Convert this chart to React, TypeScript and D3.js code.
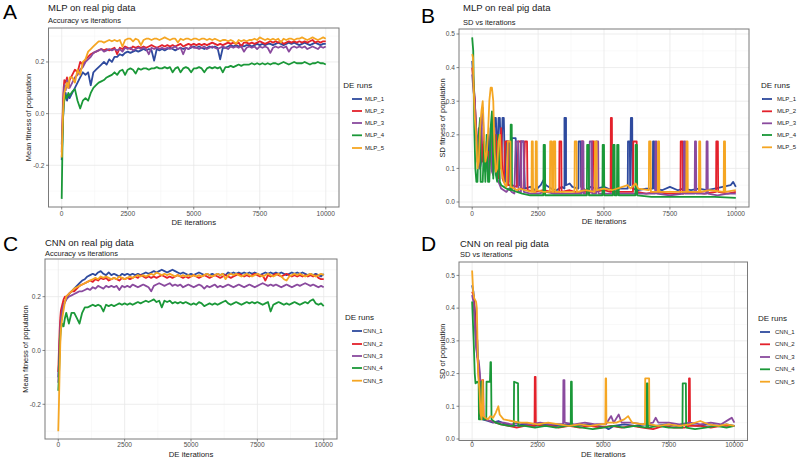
import React from "react";
import * as d3 from "d3";

const COLORS = ["#2E4A9E", "#E3212B", "#8A4A9E", "#1A9838", "#F5A623"];
const MLP_RUNS = ["MLP_1", "MLP_2", "MLP_3", "MLP_4", "MLP_5"];
const CNN_RUNS = ["CNN_1", "CNN_2", "CNN_3", "CNN_4", "CNN_5"];

const X_TICKS = [0, 2500, 5000, 7500, 10000];
const X_MINOR = [1250, 3750, 6250, 8750];
const ACC_Y_TICKS = [-0.2, 0.0, 0.2];
const ACC_Y_MINOR = [-0.3, -0.1, 0.1, 0.3];
const SD_Y_TICKS = [0, 0.1, 0.2, 0.3, 0.4, 0.5];
const SD_Y_MINOR = [0.05, 0.15, 0.25, 0.35, 0.45];

const ACC_ITER = [
  0, 25, 50, 75, 100, 150, 200, 250, 300,
  400, 500, 600, 700, 800, 900, 1000,
  1100, 1200, 1300, 1400, 1500, 1600, 1700, 1800, 1900, 2000,
  2100, 2200, 2300, 2400, 2500, 2600, 2700, 2800, 2900, 3000,
  3100, 3200, 3300, 3400, 3500, 3600, 3700, 3800, 3900, 4000,
  4100, 4200, 4300, 4400, 4500, 4600, 4700, 4800, 4900, 5000,
  5100, 5200, 5300, 5400, 5500, 5600, 5700, 5800, 5900, 6000,
  6100, 6200, 6300, 6400, 6500, 6600, 6700, 6800, 6900, 7000,
  7100, 7200, 7300, 7400, 7500, 7600, 7700, 7800, 7900, 8000,
  8100, 8200, 8300, 8400, 8500, 8600, 8700, 8800, 8900, 9000,
  9100, 9200, 9300, 9400, 9500, 9600, 9700, 9800, 9900, 10000,
];

// Panel A: MLP mean fitness
const MLP_ACC_1 = [
  -0.18, -0.1, -0.02, 0.03, 0.06, 0.08, 0.05, 0.07, 0.06,
  0.08, 0.1, 0.12, 0.14, 0.16, 0.15, 0.16,
  0.11, 0.16, 0.17, 0.18, 0.19, 0.2, 0.19, 0.21, 0.2, 0.22,
  0.22, 0.23, 0.225, 0.235, 0.24, 0.235, 0.24, 0.245, 0.24, 0.245,
  0.25, 0.245, 0.25, 0.245, 0.205, 0.25, 0.245, 0.25, 0.245, 0.25,
  0.255, 0.25, 0.245, 0.25, 0.255, 0.25, 0.255, 0.25, 0.255, 0.26,
  0.255, 0.26, 0.255, 0.25, 0.255, 0.26, 0.255, 0.26, 0.255, 0.21,
  0.255, 0.255, 0.26, 0.265, 0.26, 0.265, 0.26, 0.265, 0.26, 0.265,
  0.265, 0.26, 0.265, 0.27, 0.265, 0.27, 0.265, 0.27, 0.27, 0.265,
  0.27, 0.275, 0.27, 0.265, 0.27, 0.275, 0.27, 0.275, 0.27, 0.265,
  0.27, 0.275, 0.27, 0.265, 0.27, 0.275, 0.27, 0.265, 0.27, 0.27,
];
const MLP_ACC_2 = [
  -0.15, -0.05, 0.05, 0.1, 0.13, 0.12, 0.14, 0.1, 0.13,
  0.15, 0.17, 0.16, 0.2, 0.19, 0.21, 0.22,
  0.23, 0.235, 0.24, 0.245, 0.25, 0.245, 0.25, 0.245, 0.25, 0.255,
  0.23, 0.255, 0.25, 0.26, 0.255, 0.25, 0.26, 0.255, 0.26, 0.255,
  0.26, 0.255, 0.26, 0.265, 0.26, 0.255, 0.26, 0.265, 0.26, 0.265,
  0.26, 0.265, 0.26, 0.265, 0.27, 0.26, 0.265, 0.27, 0.265, 0.27,
  0.265, 0.27, 0.265, 0.27, 0.265, 0.27, 0.275, 0.27, 0.265, 0.27,
  0.265, 0.27, 0.275, 0.27, 0.275, 0.27, 0.275, 0.26, 0.275, 0.275,
  0.27, 0.275, 0.27, 0.275, 0.28, 0.275, 0.27, 0.275, 0.28, 0.275,
  0.28, 0.275, 0.28, 0.27, 0.275, 0.28, 0.275, 0.28, 0.275, 0.28,
  0.275, 0.28, 0.275, 0.28, 0.285, 0.275, 0.28, 0.275, 0.28, 0.28,
];
const MLP_ACC_3 = [
  -0.12, -0.05, 0.02, 0.08, 0.11, 0.09, 0.13, 0.12, 0.1,
  0.12, 0.14, 0.15, 0.17, 0.18, 0.2, 0.21,
  0.22, 0.235, 0.24, 0.245, 0.25, 0.24, 0.245, 0.25, 0.245, 0.25,
  0.245, 0.25, 0.24, 0.255, 0.25, 0.255, 0.245, 0.25, 0.255, 0.25,
  0.255, 0.25, 0.23, 0.255, 0.25, 0.255, 0.25, 0.255, 0.25, 0.255,
  0.25, 0.255, 0.26, 0.25, 0.255, 0.23, 0.255, 0.25, 0.26, 0.255,
  0.255, 0.25, 0.255, 0.26, 0.25, 0.255, 0.26, 0.255, 0.25, 0.255,
  0.26, 0.255, 0.25, 0.26, 0.255, 0.26, 0.255, 0.26, 0.24, 0.255,
  0.26, 0.255, 0.26, 0.25, 0.26, 0.255, 0.26, 0.255, 0.235, 0.255,
  0.26, 0.255, 0.26, 0.255, 0.26, 0.24, 0.255, 0.26, 0.255, 0.26,
  0.255, 0.26, 0.25, 0.255, 0.26, 0.255, 0.25, 0.26, 0.255, 0.26,
];
const MLP_ACC_4 = [
  -0.33, -0.15, -0.02, 0.03, 0.05, 0.07, 0.06, 0.08, 0.07,
  0.085, 0.095, 0.05, 0.02, 0.05, 0.06, 0.05,
  0.08, 0.1, 0.11, 0.12, 0.125, 0.13, 0.14, 0.145, 0.15, 0.16,
  0.15, 0.165, 0.17, 0.15, 0.17, 0.175, 0.17, 0.155, 0.175, 0.17,
  0.175, 0.175, 0.17, 0.175, 0.175, 0.18, 0.175, 0.175, 0.18, 0.175,
  0.18, 0.16, 0.175, 0.18, 0.16, 0.175, 0.18, 0.175, 0.16, 0.175,
  0.175, 0.18, 0.175, 0.16, 0.175, 0.18, 0.175, 0.18, 0.175, 0.18,
  0.16, 0.18, 0.18, 0.185, 0.18, 0.185, 0.19, 0.185, 0.19, 0.19,
  0.19, 0.195, 0.19, 0.195, 0.19, 0.195, 0.19, 0.195, 0.19, 0.195,
  0.195, 0.19, 0.195, 0.2, 0.195, 0.19, 0.195, 0.2, 0.195, 0.195,
  0.195, 0.2, 0.195, 0.19, 0.195, 0.195, 0.2, 0.195, 0.195, 0.19,
];
const MLP_ACC_5 = [
  -0.17, -0.08, 0.0, 0.05, 0.08, 0.1, 0.12, 0.1, 0.14,
  0.14, 0.12, 0.17, 0.15, 0.2, 0.21, 0.24,
  0.25, 0.26, 0.27, 0.28, 0.28, 0.275, 0.28, 0.285, 0.28, 0.285,
  0.28, 0.285, 0.26, 0.285, 0.29, 0.29, 0.28, 0.29, 0.285, 0.265,
  0.285, 0.29, 0.29, 0.285, 0.29, 0.29, 0.285, 0.29, 0.295, 0.29,
  0.285, 0.29, 0.29, 0.275, 0.29, 0.285, 0.29, 0.29, 0.285, 0.29,
  0.29, 0.285, 0.29, 0.29, 0.285, 0.29, 0.285, 0.29, 0.285, 0.28,
  0.285, 0.285, 0.28, 0.285, 0.28, 0.27, 0.285, 0.28, 0.285, 0.28,
  0.285, 0.285, 0.29, 0.285, 0.295, 0.29, 0.285, 0.29, 0.285, 0.29,
  0.285, 0.29, 0.275, 0.29, 0.285, 0.29, 0.29, 0.285, 0.29, 0.29,
  0.295, 0.29, 0.285, 0.29, 0.295, 0.29, 0.285, 0.29, 0.295, 0.29,
];

// Panel C: CNN mean fitness
const CNN_ACC_1 = [
  -0.1, -0.05, 0.02, 0.08, 0.12, 0.15, 0.17, 0.18, 0.19,
  0.21, 0.22, 0.23, 0.24, 0.25, 0.26, 0.265,
  0.275, 0.28, 0.285, 0.28, 0.29, 0.295, 0.285, 0.28, 0.29, 0.28,
  0.285, 0.28, 0.275, 0.285, 0.28, 0.285, 0.28, 0.285, 0.28, 0.285,
  0.28, 0.285, 0.29, 0.285, 0.29, 0.295, 0.29, 0.295, 0.3, 0.295,
  0.29, 0.295, 0.3, 0.295, 0.29, 0.285, 0.29, 0.285, 0.28, 0.285,
  0.28, 0.285, 0.29, 0.285, 0.28, 0.285, 0.28, 0.285, 0.28, 0.285,
  0.28, 0.285, 0.28, 0.29, 0.285, 0.29, 0.285, 0.29, 0.285, 0.29,
  0.285, 0.29, 0.285, 0.29, 0.285, 0.28, 0.285, 0.29, 0.285, 0.29,
  0.285, 0.29, 0.285, 0.29, 0.285, 0.28, 0.285, 0.29, 0.285, 0.29,
  0.285, 0.29, 0.285, 0.28, 0.285, 0.28, 0.285, 0.28, 0.275, 0.285,
];
const CNN_ACC_2 = [
  -0.08, 0.0, 0.07, 0.12, 0.15, 0.17, 0.19, 0.2, 0.2,
  0.21, 0.22, 0.22, 0.23, 0.24, 0.245, 0.25,
  0.255, 0.26, 0.255, 0.265, 0.26, 0.27, 0.265, 0.27, 0.26, 0.265,
  0.27, 0.265, 0.26, 0.27, 0.265, 0.27, 0.265, 0.27, 0.275, 0.27,
  0.28, 0.275, 0.27, 0.275, 0.27, 0.275, 0.27, 0.275, 0.28, 0.275,
  0.27, 0.275, 0.27, 0.275, 0.28, 0.275, 0.27, 0.275, 0.27, 0.275,
  0.28, 0.275, 0.27, 0.275, 0.28, 0.275, 0.27, 0.275, 0.28, 0.275,
  0.27, 0.275, 0.28, 0.275, 0.27, 0.275, 0.28, 0.285, 0.28, 0.275,
  0.28, 0.275, 0.28, 0.285, 0.28, 0.275, 0.28, 0.26, 0.28, 0.275,
  0.28, 0.285, 0.28, 0.275, 0.28, 0.285, 0.28, 0.275, 0.28, 0.275,
  0.28, 0.275, 0.28, 0.275, 0.28, 0.275, 0.28, 0.27, 0.265, 0.265,
];
const CNN_ACC_3 = [
  -0.12, -0.05, 0.03, 0.08, 0.12, 0.15, 0.17, 0.18, 0.19,
  0.2, 0.205, 0.21, 0.215, 0.22, 0.22, 0.225,
  0.23, 0.225, 0.235, 0.23, 0.24, 0.235, 0.23, 0.24, 0.235, 0.24,
  0.235, 0.24, 0.225, 0.24, 0.235, 0.24, 0.235, 0.245, 0.24, 0.235,
  0.24, 0.245, 0.24, 0.235, 0.22, 0.24, 0.245, 0.25, 0.245, 0.24,
  0.245, 0.25, 0.24, 0.245, 0.24, 0.245, 0.235, 0.24, 0.245, 0.24,
  0.235, 0.24, 0.245, 0.24, 0.23, 0.24, 0.235, 0.24, 0.245, 0.235,
  0.24, 0.235, 0.24, 0.245, 0.24, 0.235, 0.24, 0.245, 0.24, 0.235,
  0.24, 0.245, 0.24, 0.235, 0.24, 0.245, 0.25, 0.245, 0.24, 0.245,
  0.24, 0.245, 0.24, 0.235, 0.24, 0.245, 0.24, 0.235, 0.24, 0.245,
  0.24, 0.245, 0.25, 0.245, 0.24, 0.245, 0.24, 0.235, 0.24, 0.235,
];
const CNN_ACC_4 = [
  -0.15, -0.1, -0.02, 0.05, 0.08, 0.1, 0.09, 0.12, 0.14,
  0.1, 0.14, 0.14, 0.12, 0.1, 0.14, 0.16,
  0.16, 0.165, 0.17, 0.165, 0.17, 0.165, 0.145, 0.17, 0.165, 0.17,
  0.165, 0.17, 0.175, 0.17, 0.175, 0.17, 0.175, 0.17, 0.175, 0.18,
  0.175, 0.18, 0.185, 0.18, 0.185, 0.19, 0.18, 0.185, 0.16, 0.185,
  0.18, 0.185, 0.175, 0.18, 0.175, 0.18, 0.175, 0.18, 0.175, 0.17,
  0.175, 0.17, 0.18, 0.175, 0.165, 0.17, 0.175, 0.17, 0.175, 0.17,
  0.175, 0.18, 0.185, 0.175, 0.17, 0.175, 0.18, 0.175, 0.17, 0.175,
  0.18, 0.175, 0.18, 0.175, 0.18, 0.175, 0.17, 0.175, 0.18, 0.145,
  0.17, 0.175, 0.18, 0.175, 0.17, 0.175, 0.17, 0.175, 0.18, 0.175,
  0.17, 0.175, 0.18, 0.175, 0.185, 0.19, 0.175, 0.17, 0.175, 0.165,
];
const CNN_ACC_5 = [
  -0.3, -0.2, -0.08, 0.02, 0.08, 0.12, 0.15, 0.18, 0.2,
  0.21, 0.22, 0.23, 0.235, 0.24, 0.245, 0.25,
  0.255, 0.26, 0.265, 0.27, 0.265, 0.275, 0.27, 0.275, 0.27, 0.265,
  0.27, 0.265, 0.275, 0.27, 0.265, 0.27, 0.275, 0.27, 0.275, 0.28,
  0.275, 0.28, 0.275, 0.28, 0.285, 0.28, 0.29, 0.285, 0.28, 0.285,
  0.28, 0.285, 0.28, 0.275, 0.28, 0.275, 0.28, 0.275, 0.28, 0.275,
  0.28, 0.275, 0.28, 0.275, 0.28, 0.285, 0.28, 0.275, 0.28, 0.285,
  0.28, 0.285, 0.265, 0.28, 0.285, 0.28, 0.285, 0.28, 0.275, 0.28,
  0.285, 0.28, 0.275, 0.28, 0.285, 0.28, 0.275, 0.28, 0.285, 0.28,
  0.275, 0.28, 0.285, 0.275, 0.265, 0.26, 0.275, 0.28, 0.285, 0.28,
  0.285, 0.28, 0.275, 0.28, 0.285, 0.28, 0.275, 0.28, 0.285, 0.28,
];

// Panel B: MLP SD (iteration, value)
const MLP_SD_1: [number, number][] = [
  [0, 0.42], [50, 0.36], [100, 0.3], [150, 0.2], [200, 0.12], [300, 0.1], [400, 0.15], [500, 0.09],
  [600, 0.2], [650, 0.12], [700, 0.18], [800, 0.1], [850, 0.25], [900, 0.25], [950, 0.12], [1000, 0.25],
  [1050, 0.25], [1100, 0.1], [1150, 0.25], [1200, 0.25], [1250, 0.06], [1300, 0.18], [1400, 0.18],
  [1450, 0.06], [1500, 0.19], [1650, 0.19], [1700, 0.05], [1800, 0.05], [1850, 0.18], [1950, 0.18],
  [2000, 0.04], [2200, 0.045], [2400, 0.035], [2600, 0.05], [2700, 0.065], [2800, 0.05], [3000, 0.04],
  [3200, 0.035], [3400, 0.045], [3500, 0.04], [3500, 0.25], [3560, 0.25], [3560, 0.05], [3700, 0.055],
  [3800, 0.045], [4030, 0.04], [4040, 0.18], [4120, 0.18], [4130, 0.045], [4300, 0.035], [4500, 0.045],
  [4700, 0.04], [5000, 0.045], [5300, 0.035], [5600, 0.04], [5900, 0.04], [5910, 0.18], [5980, 0.18],
  [5990, 0.05], [6020, 0.25], [6070, 0.25], [6080, 0.04], [6300, 0.035], [6600, 0.04], [6850, 0.04],
  [6860, 0.18], [6900, 0.18], [6910, 0.04], [7200, 0.035], [7500, 0.045], [7800, 0.035], [8000, 0.04],
  [8300, 0.035], [8600, 0.04], [8900, 0.035], [9200, 0.04], [9500, 0.045], [9800, 0.05], [9900, 0.06],
  [10000, 0.045],
];
const MLP_SD_2: [number, number][] = [
  [0, 0.4], [50, 0.35], [100, 0.3], [150, 0.22], [200, 0.15], [250, 0.2], [300, 0.1], [350, 0.22],
  [400, 0.12], [450, 0.18], [500, 0.1], [600, 0.15], [650, 0.08], [700, 0.22], [750, 0.1], [800, 0.09],
  [900, 0.2], [950, 0.08], [1000, 0.07], [1100, 0.22], [1150, 0.07], [1200, 0.06], [1250, 0.18],
  [1350, 0.18], [1360, 0.05], [1500, 0.05], [1700, 0.045], [1750, 0.18], [1850, 0.18], [1860, 0.04],
  [1950, 0.04], [2000, 0.18], [2080, 0.18], [2100, 0.035], [2400, 0.03], [2700, 0.035], [3000, 0.03],
  [3300, 0.03], [3310, 0.18], [3380, 0.18], [3390, 0.03], [3700, 0.035], [3900, 0.03], [4000, 0.03],
  [4150, 0.03], [4160, 0.18], [4200, 0.18], [4210, 0.03], [4550, 0.03], [4560, 0.18], [4620, 0.18],
  [4630, 0.03], [5000, 0.035], [5250, 0.03], [5260, 0.25], [5300, 0.25], [5310, 0.03], [5600, 0.03],
  [6100, 0.03], [6110, 0.18], [6240, 0.18], [6250, 0.03], [6600, 0.025], [7000, 0.03], [7400, 0.025],
  [7900, 0.025], [7910, 0.18], [7980, 0.18], [7990, 0.025], [8400, 0.03], [8800, 0.025], [9250, 0.03],
  [9260, 0.18], [9320, 0.18], [9330, 0.03], [9700, 0.025], [10000, 0.03],
];
const MLP_SD_3: [number, number][] = [
  [0, 0.38], [50, 0.33], [100, 0.3], [150, 0.2], [200, 0.17], [250, 0.22], [300, 0.1], [350, 0.24],
  [400, 0.28], [450, 0.15], [500, 0.1], [550, 0.18], [600, 0.08], [650, 0.12], [700, 0.2], [750, 0.09],
  [800, 0.08], [850, 0.22], [900, 0.1], [950, 0.07], [1000, 0.06], [1100, 0.04], [1200, 0.035],
  [1300, 0.03], [1400, 0.04], [1500, 0.03], [1600, 0.025], [1650, 0.18], [1750, 0.18], [1760, 0.03],
  [1850, 0.03], [1860, 0.18], [1950, 0.18], [1960, 0.03], [2200, 0.025], [2500, 0.025], [2800, 0.03],
  [3100, 0.025], [3500, 0.025], [3800, 0.025], [4150, 0.025], [4160, 0.18], [4220, 0.18], [4230, 0.025],
  [4450, 0.025], [4460, 0.18], [4540, 0.18], [4550, 0.025], [4700, 0.025], [4710, 0.18], [4780, 0.18],
  [4790, 0.025], [5200, 0.025], [5700, 0.025], [6200, 0.025], [6700, 0.025], [6940, 0.025], [6950, 0.18],
  [6990, 0.18], [7000, 0.025], [7500, 0.02], [8020, 0.025], [8030, 0.18], [8080, 0.18], [8090, 0.025],
  [8440, 0.025], [8450, 0.18], [8490, 0.18], [8500, 0.025], [8880, 0.025], [8890, 0.18], [8930, 0.18],
  [8940, 0.025], [9300, 0.02], [9700, 0.025], [10000, 0.025],
];
const MLP_SD_4: [number, number][] = [
  [0, 0.49], [40, 0.45], [80, 0.22], [120, 0.1], [160, 0.06], [200, 0.06], [250, 0.2], [300, 0.25],
  [320, 0.06], [400, 0.06], [450, 0.18], [500, 0.06], [550, 0.2], [600, 0.06], [650, 0.06], [700, 0.22],
  [750, 0.27], [800, 0.07], [850, 0.2], [900, 0.08], [950, 0.06], [1000, 0.2], [1050, 0.06], [1100, 0.05],
  [1200, 0.045], [1300, 0.04], [1450, 0.035], [1460, 0.23], [1500, 0.23], [1510, 0.035], [1700, 0.03],
  [1900, 0.025], [2200, 0.02], [2500, 0.02], [2700, 0.02], [2710, 0.17], [2760, 0.17], [2770, 0.02],
  [3200, 0.02], [3700, 0.02], [4350, 0.02], [4360, 0.17], [4420, 0.17], [4430, 0.02], [4940, 0.02],
  [4950, 0.17], [5000, 0.17], [5010, 0.02], [5340, 0.02], [5350, 0.17], [5400, 0.17], [5410, 0.02],
  [5490, 0.02], [5500, 0.17], [5550, 0.17], [5560, 0.02], [6190, 0.02], [6200, 0.17], [6250, 0.17],
  [6260, 0.02], [6800, 0.015], [7400, 0.015], [8000, 0.015], [8600, 0.015], [9200, 0.015], [10000, 0.012],
];
const MLP_SD_5: [number, number][] = [
  [0, 0.44], [30, 0.43], [60, 0.33], [100, 0.25], [150, 0.2], [200, 0.1], [250, 0.12], [300, 0.22],
  [350, 0.27], [400, 0.3], [450, 0.2], [500, 0.12], [550, 0.14], [600, 0.2], [650, 0.3], [700, 0.34],
  [750, 0.34], [800, 0.3], [850, 0.15], [900, 0.09], [950, 0.1], [1000, 0.18], [1050, 0.2], [1100, 0.1],
  [1150, 0.08], [1200, 0.06], [1250, 0.05], [1300, 0.045], [1350, 0.18], [1450, 0.18], [1460, 0.045],
  [1600, 0.04], [1700, 0.035], [1800, 0.04], [2000, 0.035], [2250, 0.03], [2260, 0.18], [2300, 0.18],
  [2310, 0.03], [2400, 0.03], [2410, 0.18], [2450, 0.18], [2460, 0.035], [2700, 0.03], [2950, 0.03],
  [2960, 0.18], [3020, 0.18], [3030, 0.03], [3080, 0.03], [3090, 0.18], [3150, 0.18], [3160, 0.03],
  [3600, 0.03], [3880, 0.03], [3890, 0.18], [3960, 0.18], [3970, 0.03], [4300, 0.035], [4650, 0.03],
  [4660, 0.18], [4720, 0.18], [4730, 0.035], [5000, 0.04], [5300, 0.035], [5700, 0.045], [5900, 0.05],
  [6000, 0.04], [6200, 0.055], [6300, 0.04], [6700, 0.035], [6710, 0.18], [6770, 0.18], [6780, 0.03],
  [7040, 0.03], [7050, 0.18], [7090, 0.18], [7100, 0.03], [7600, 0.03], [8120, 0.03], [8130, 0.18],
  [8170, 0.18], [8180, 0.03], [8600, 0.03], [8610, 0.18], [8650, 0.18], [8660, 0.03], [9000, 0.035],
  [9540, 0.03], [9550, 0.18], [9590, 0.18], [9600, 0.03], [10000, 0.035],
];

// Panel D: CNN SD (iteration, value)
const CNN_SD_1: [number, number][] = [
  [0, 0.47], [50, 0.45], [100, 0.4], [150, 0.33], [200, 0.3], [250, 0.2], [300, 0.1], [350, 0.07],
  [400, 0.06], [600, 0.055], [800, 0.05], [1000, 0.055], [1300, 0.045], [1600, 0.04], [2000, 0.045],
  [2400, 0.04], [2800, 0.045], [3200, 0.04], [3600, 0.045], [4000, 0.04], [4400, 0.045], [4800, 0.04],
  [5100, 0.035], [5200, 0.03], [5400, 0.04], [5800, 0.045], [6200, 0.04], [6600, 0.045], [7000, 0.04],
  [7400, 0.045], [7800, 0.04], [8200, 0.045], [8600, 0.04], [9000, 0.045], [9400, 0.04], [9700, 0.045],
  [10000, 0.04],
];
const CNN_SD_2: [number, number][] = [
  [0, 0.45], [50, 0.44], [100, 0.38], [150, 0.3], [200, 0.25], [250, 0.2], [280, 0.12], [300, 0.07],
  [350, 0.065], [380, 0.18], [420, 0.18], [440, 0.07], [500, 0.06], [700, 0.055], [900, 0.05],
  [1100, 0.045], [1400, 0.04], [1700, 0.035], [2000, 0.04], [2380, 0.04], [2390, 0.19], [2420, 0.19],
  [2430, 0.045], [2700, 0.04], [3000, 0.04], [3300, 0.035], [3700, 0.04], [4100, 0.035], [4500, 0.04],
  [4900, 0.035], [5300, 0.04], [5700, 0.035], [6100, 0.04], [6500, 0.035], [6900, 0.03], [7300, 0.04],
  [7700, 0.035], [8100, 0.035], [8260, 0.04], [8270, 0.185], [8300, 0.185], [8310, 0.04], [8700, 0.04],
  [9100, 0.035], [9500, 0.04], [10000, 0.04],
];
const CNN_SD_3: [number, number][] = [
  [0, 0.44], [50, 0.42], [100, 0.35], [150, 0.28], [200, 0.25], [250, 0.24], [300, 0.2], [350, 0.1],
  [400, 0.07], [500, 0.06], [700, 0.055], [900, 0.05], [1200, 0.05], [1500, 0.045], [1800, 0.05],
  [2200, 0.045], [2600, 0.05], [3000, 0.045], [3470, 0.045], [3480, 0.18], [3520, 0.18], [3530, 0.05],
  [3900, 0.045], [4300, 0.05], [4700, 0.045], [5100, 0.045], [5300, 0.07], [5400, 0.05], [5590, 0.075],
  [5700, 0.05], [6100, 0.05], [6500, 0.045], [6900, 0.05], [7000, 0.065], [7100, 0.05], [7500, 0.05],
  [7900, 0.045], [8300, 0.05], [8700, 0.045], [9100, 0.05], [9500, 0.045], [9800, 0.06], [9900, 0.065],
  [10000, 0.05],
];
const CNN_SD_4: [number, number][] = [
  [0, 0.42], [60, 0.3], [100, 0.2], [130, 0.17], [200, 0.175], [250, 0.17], [260, 0.06], [330, 0.06],
  [350, 0.175], [400, 0.175], [420, 0.06], [540, 0.06], [550, 0.175], [680, 0.175], [700, 0.235],
  [720, 0.235], [740, 0.06], [900, 0.05], [1100, 0.045], [1400, 0.04], [1590, 0.04], [1600, 0.175],
  [1750, 0.17], [1760, 0.04], [2000, 0.04], [2400, 0.035], [2800, 0.04], [3200, 0.035], [3600, 0.04],
  [3760, 0.04], [3770, 0.175], [3800, 0.175], [3810, 0.04], [4200, 0.035], [4600, 0.03], [5000, 0.035],
  [5400, 0.04], [5800, 0.035], [6200, 0.04], [6650, 0.035], [6660, 0.17], [6700, 0.17], [6710, 0.035],
  [7100, 0.04], [7500, 0.035], [8020, 0.035], [8030, 0.17], [8150, 0.17], [8160, 0.035], [8500, 0.03],
  [8900, 0.035], [9300, 0.04], [9700, 0.035], [10000, 0.04],
];
const CNN_SD_5: [number, number][] = [
  [0, 0.515], [40, 0.45], [80, 0.43], [150, 0.42], [180, 0.4], [230, 0.2], [280, 0.15], [320, 0.08],
  [360, 0.06], [400, 0.18], [430, 0.07], [500, 0.065], [600, 0.06], [700, 0.07], [800, 0.065],
  [900, 0.08], [1000, 0.1], [1050, 0.075], [1200, 0.06], [1500, 0.055], [1800, 0.05], [2100, 0.05],
  [2500, 0.045], [2900, 0.05], [3300, 0.045], [3700, 0.04], [4100, 0.045], [4500, 0.04], [4900, 0.045],
  [5080, 0.045], [5090, 0.185], [5110, 0.185], [5120, 0.05], [5500, 0.05], [5800, 0.06], [5950, 0.07],
  [6100, 0.05], [6500, 0.045], [6590, 0.045], [6600, 0.185], [6750, 0.185], [6760, 0.045], [7100, 0.04],
  [7500, 0.045], [7900, 0.04], [8300, 0.045], [8700, 0.055], [9000, 0.045], [9400, 0.04], [9700, 0.045],
  [10000, 0.04],
];

const zipAcc = (vals: number[]): [number, number][] => vals.map((v, i) => [ACC_ITER[i], v]);

const FONT = "Liberation Sans, Arial, Helvetica, sans-serif";

type PanelCfg = {
  letter: string; lx: number; ly: number;
  title: string; subtitle: string; tx: number; tBase: number; sBase: number;
  left: number; right: number; top: number; bottom: number;
  yDomain: [number, number]; yTicks: number[]; yMinor: number[]; yFmt: (v: number) => string;
  yTitle: string; yTitleX: number;
  xLabelBase: number; xTitleBase: number;
  runs: string[]; series: [number, number][][];
  legX: number; legTitleBase: number; legY: number[]; legLineX: number; legLabelX: number;
};

function Panel({ c }: { c: PanelCfg }) {
  const x = d3.scaleLinear().domain([-500, 10500]).range([c.left, c.right]);
  const y = d3.scaleLinear().domain(c.yDomain).range([c.bottom, c.top]);
  const line = d3.line<[number, number]>().x((d) => x(d[0])).y((d) => y(d[1]));
  const cx = (c.left + c.right) / 2;
  const cy = (c.top + c.bottom) / 2;
  return (
    <g>
      <text x={c.lx} y={c.ly} fontSize={21} fontFamily={FONT} fill="#000">{c.letter}</text>
      <text x={c.tx} y={c.tBase} fontSize={9.5} fontFamily={FONT} fill="#1a1a1a">{c.title}</text>
      <text x={c.tx} y={c.sBase} fontSize={7.5} fontFamily={FONT} fill="#1a1a1a">{c.subtitle}</text>
      {c.yMinor.map((v) => (
        <line key={"ym" + v} x1={c.left} x2={c.right} y1={y(v)} y2={y(v)} stroke="#F2F2F2" strokeWidth={0.5} />
      ))}
      {X_MINOR.map((v) => (
        <line key={"xm" + v} x1={x(v)} x2={x(v)} y1={c.top} y2={c.bottom} stroke="#F2F2F2" strokeWidth={0.5} />
      ))}
      {c.yTicks.map((v) => (
        <line key={"yg" + v} x1={c.left} x2={c.right} y1={y(v)} y2={y(v)} stroke="#E8E8E8" strokeWidth={0.8} />
      ))}
      {X_TICKS.map((v) => (
        <line key={"xg" + v} x1={x(v)} x2={x(v)} y1={c.top} y2={c.bottom} stroke="#E8E8E8" strokeWidth={0.8} />
      ))}
      {c.series.map((s, i) => (
        <path key={"s" + i} d={line(s) || ""} fill="none" stroke={COLORS[i]} strokeWidth={1.8} strokeLinejoin="round" />
      ))}
      <rect x={c.left} y={c.top} width={c.right - c.left} height={c.bottom - c.top} fill="none" stroke="#7A7A7A" strokeWidth={1} />
      {c.yTicks.map((v) => (
        <g key={"yt" + v}>
          <line x1={c.left - 2.5} x2={c.left} y1={y(v)} y2={y(v)} stroke="#555" strokeWidth={0.7} />
          <text x={c.left - 4} y={y(v) + 2.3} fontSize={6.6} textAnchor="end" fontFamily={FONT} fill="#4D4D4D">{c.yFmt(v)}</text>
        </g>
      ))}
      {X_TICKS.map((v) => (
        <g key={"xt" + v}>
          <line x1={x(v)} x2={x(v)} y1={c.bottom} y2={c.bottom + 2.5} stroke="#555" strokeWidth={0.7} />
          <text x={x(v)} y={c.xLabelBase} fontSize={6.6} textAnchor="middle" fontFamily={FONT} fill="#4D4D4D">{String(v)}</text>
        </g>
      ))}
      <text x={cx} y={c.xTitleBase} fontSize={7.8} textAnchor="middle" fontFamily={FONT} fill="#1a1a1a">DE iterations</text>
      <text transform={`translate(${c.yTitleX},${cy}) rotate(-90)`} fontSize={7.5} textAnchor="middle" fontFamily={FONT} fill="#1a1a1a">{c.yTitle}</text>
      <text x={c.legX} y={c.legTitleBase} fontSize={8} fontFamily={FONT} fill="#1a1a1a">DE runs</text>
      {c.runs.map((r, i) => (
        <g key={r}>
          <line x1={c.legLineX} x2={c.legLineX + 10} y1={c.legY[i]} y2={c.legY[i]} stroke={COLORS[i]} strokeWidth={1.8} />
          <text x={c.legLabelX} y={c.legY[i] + 2.1} fontSize={6} fontFamily={FONT} fill="#1a1a1a">{r}</text>
        </g>
      ))}
    </g>
  );
}

const fmt1 = (v: number) => v.toFixed(1);

export default function App() {
  const panels: PanelCfg[] = [
    {
      letter: "A", lx: 3, ly: 19, title: "MLP on real pig data", subtitle: "Accuracy vs iterations",
      tx: 48, tBase: 10.5, sBase: 22.5,
      left: 48.5, right: 339, top: 28, bottom: 207,
      yDomain: [-0.3615, 0.3315], yTicks: ACC_Y_TICKS, yMinor: ACC_Y_MINOR, yFmt: fmt1,
      yTitle: "Mean fitness of population", yTitleX: 31,
      xLabelBase: 216, xTitleBase: 224.5,
      runs: MLP_RUNS, series: [MLP_ACC_1, MLP_ACC_2, MLP_ACC_3, MLP_ACC_4, MLP_ACC_5].map(zipAcc),
      legX: 343.3, legTitleBase: 87.5, legY: [99, 111, 123, 135.3, 148], legLineX: 352, legLabelX: 365,
    },
    {
      letter: "B", lx: 421, ly: 22.5, title: "MLP on real pig data", subtitle: "SD vs iterations",
      tx: 463, tBase: 11.3, sBase: 24.5,
      left: 459, right: 749, top: 29, bottom: 207,
      yDomain: [-0.0149, 0.5149], yTicks: SD_Y_TICKS, yMinor: SD_Y_MINOR, yFmt: fmt1,
      yTitle: "SD fitness of population", yTitleX: 444.5,
      xLabelBase: 215.5, xTitleBase: 224,
      runs: MLP_RUNS, series: [MLP_SD_1, MLP_SD_2, MLP_SD_3, MLP_SD_4, MLP_SD_5],
      legX: 761, legTitleBase: 88, legY: [99, 111.3, 123.3, 135, 147.3], legLineX: 762, legLabelX: 777,
    },
    {
      letter: "C", lx: 3, ly: 250.5, title: "CNN on real pig data", subtitle: "Accuracy vs iterations",
      tx: 45, tBase: 245.5, sBase: 256,
      left: 45, right: 337, top: 259, bottom: 439,
      yDomain: [-0.329, 0.34], yTicks: ACC_Y_TICKS, yMinor: ACC_Y_MINOR, yFmt: fmt1,
      yTitle: "Mean fitness of population", yTitleX: 28,
      xLabelBase: 446.7, xTitleBase: 456.7,
      runs: CNN_RUNS, series: [CNN_ACC_1, CNN_ACC_2, CNN_ACC_3, CNN_ACC_4, CNN_ACC_5].map(zipAcc),
      legX: 345, legTitleBase: 320, legY: [331, 344, 356, 368, 380.7], legLineX: 352, legLabelX: 363,
    },
    {
      letter: "D", lx: 421, ly: 251, title: "CNN on real pig data", subtitle: "SD vs iterations",
      tx: 460, tBase: 246.5, sBase: 256.7,
      left: 459, right: 747.5, top: 262, bottom: 440.5,
      yDomain: [-0.0046, 0.541], yTicks: SD_Y_TICKS, yMinor: SD_Y_MINOR, yFmt: fmt1,
      yTitle: "SD of population", yTitleX: 444.5,
      xLabelBase: 446.7, xTitleBase: 457,
      runs: CNN_RUNS, series: [CNN_SD_1, CNN_SD_2, CNN_SD_3, CNN_SD_4, CNN_SD_5],
      legX: 758, legTitleBase: 320.7, legY: [332, 344.3, 357, 369.3, 381.7], legLineX: 760, legLabelX: 775,
    },
  ];
  return (
    <svg width={800} height={460} style={{ position: "absolute", left: 0, top: 0, background: "#fff" }}>
      <rect x={0} y={0} width={800} height={460} fill="#fff" />
      {panels.map((p) => <Panel key={p.letter} c={p} />)}
    </svg>
  );
}
